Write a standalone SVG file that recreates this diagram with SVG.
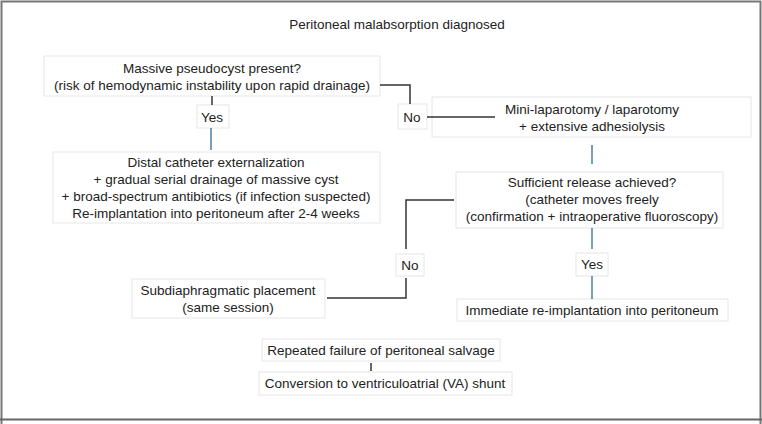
<svg xmlns="http://www.w3.org/2000/svg" width="762" height="424" viewBox="0 0 762 424">
<style>
text{font-family:"Liberation Sans",Arial,sans-serif;font-size:13.5px;fill:#222;text-anchor:middle;dominant-baseline:central}
.box{fill:#fff;stroke:#e6e6e6;stroke-width:1}
.dk{stroke:#333;stroke-width:1.5;fill:none}
.bl{stroke:#4a7fa0;stroke-width:1.5;fill:none}
</style>
<rect x="0" y="0" width="762" height="424" fill="#fff"/>
<path d="M1.5 424 V1.5 H760.5 V424" fill="none" stroke="#777" stroke-width="2"/>
<line x1="0" y1="419.5" x2="762" y2="419.5" stroke="#666" stroke-width="2"/>
<g id="title"><text x="397" y="24">Peritoneal malabsorption diagnosed</text></g>
<g id="pseudocyst"><rect class="box" x="44" y="56" width="336" height="40"/><text x="212" y="68">Massive pseudocyst present?</text><text x="212" y="85">(risk of hemodynamic instability upon rapid drainage)</text></g>
<g id="yes1"><rect class="box" x="197" y="105" width="32" height="23"/><text x="212" y="117">Yes</text></g>
<g id="externalization"><rect class="box" x="53" y="152" width="327" height="71"/><text x="216" y="162">Distal catheter externalization</text><text x="216" y="179">+ gradual serial drainage of massive cyst</text><text x="216" y="196">+ broad-spectrum antibiotics (if infection suspected)</text><text x="216" y="213">Re-implantation into peritoneum after 2-4 weeks</text></g>
<g id="no1"><rect class="box" x="398" y="104" width="29" height="25"/><text x="412" y="117">No</text></g>
<g id="laparotomy"><rect class="box" x="432" y="97" width="319" height="40"/><text x="592" y="109">Mini-laparotomy / laparotomy</text><text x="592" y="126">+ extensive adhesiolysis</text></g>
<g id="release"><rect class="box" x="456" y="172" width="267" height="56"/><text x="592" y="182">Sufficient release achieved?</text><text x="592" y="199">(catheter moves freely</text><text x="592" y="216">(confirmation + intraoperative fluoroscopy)</text></g>
<g id="no2"><rect class="box" x="396" y="254" width="28" height="22"/><text x="410" y="265">No</text></g>
<g id="subdiaphragmatic"><rect class="box" x="132" y="279" width="193" height="39"/><text x="228" y="290">Subdiaphragmatic placement</text><text x="228" y="307">(same session)</text></g>
<g id="yes2"><rect class="box" x="576" y="253" width="32" height="23"/><text x="592" y="264">Yes</text></g>
<g id="reimplant"><rect class="box" x="457" y="299" width="271" height="22"/><text x="592" y="310">Immediate re-implantation into peritoneum</text></g>
<g id="failure"><rect class="box" x="262" y="339" width="238" height="22"/><text x="381" y="350">Repeated failure of peritoneal salvage</text></g>
<g id="va"><rect class="box" x="259" y="372" width="253" height="23"/><text x="385" y="383">Conversion to ventriculoatrial (VA) shunt</text></g>
<g id="connectors">
<path class="dk" d="M212 96 V105"/>
<path class="bl" d="M211 128 V150"/>
<path class="dk" d="M380 85 H410 V104"/>
<path class="dk" d="M427 117 H495"/>
<path class="bl" d="M592 145 V164"/>
<path class="dk" d="M454 200 H406 V249"/>
<path class="dk" d="M406 278 V298 H327"/>
<path class="bl" d="M592 228 V249"/>
<path class="bl" d="M592 276 V299"/>
<path class="dk" d="M371 363 V371"/>
</g>
</svg>
